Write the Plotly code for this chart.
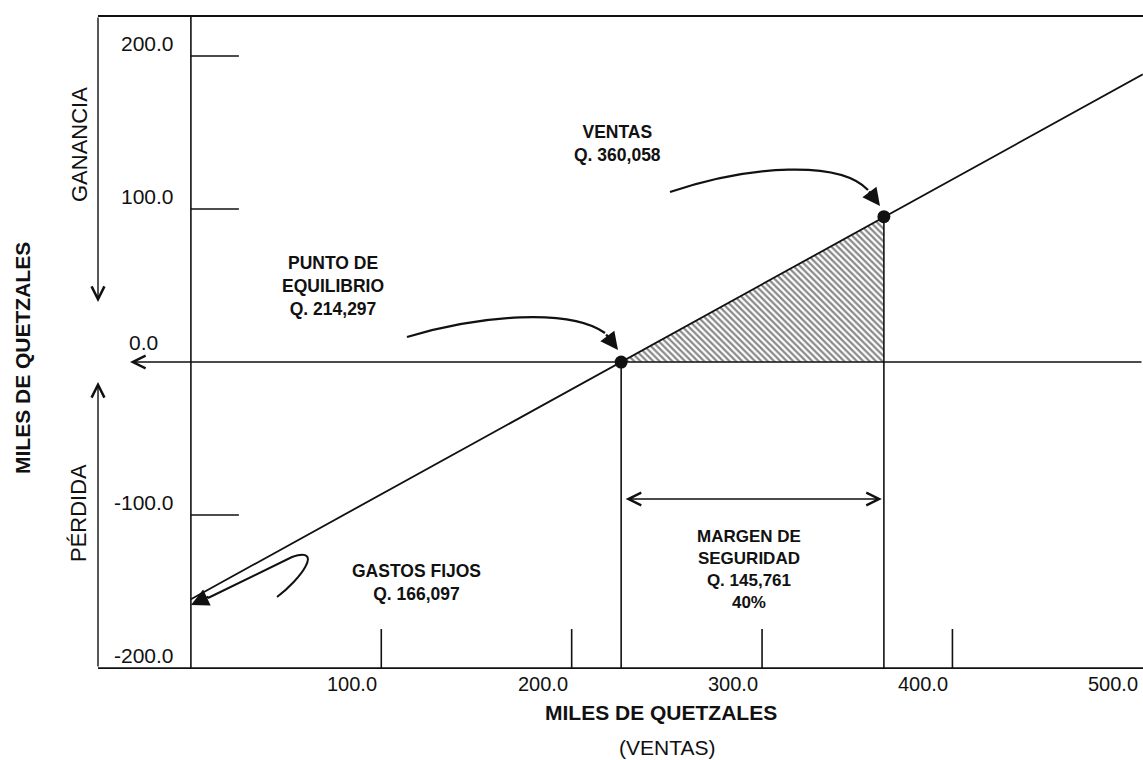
import plotly.graph_objects as go

# ---------------- data (miles de quetzales) ----------------
line_x = [0, 500]            # ventas
line_y = [-155, 188]         # ganancia / pérdida
be_x, be_y = 226, 0          # punto de equilibrio (posición en el gráfico)
ventas_x, ventas_y = 364, 95 # ventas actuales (posición en el gráfico)
margin_y = -89.5             # altura de la flecha del margen de seguridad

y_tick_vals = [200, 100, 0, -100, -200]
y_tick_text = ["200.0", "100.0", "0.0", "-100.0", "-200.0"]
y_tick_marks = [200, 100, -100]
x_tick_vals = [100, 200, 300, 400, 500]
x_tick_text = ["100.0", "200.0", "300.0", "400.0", "500.0"]
x_tick_marks = [100, 200, 300, 400]

lbl_ventas = "VENTAS<br>Q. 360,058"
lbl_pe = "PUNTO DE<br>EQUILIBRIO<br>Q. 214,297"
lbl_gf = "GASTOS FIJOS<br>Q. 166,097"
lbl_ms = "MARGEN DE<br>SEGURIDAD<br>Q. 145,761<br>40%"

# ---------------- layout geometry ----------------
OFF = 0                      # body margin removed by post_script
W, H = 1143 - OFF, 760 - OFF
# plot area in page pixels: x 90..1143, y 8..676
L, R, T, B = 90 - OFF, 0, 8 - OFF, 760 - 676
X_RANGE = [-53, 500.1]
Y_RANGE = [-205.2, 231.4]
PW, PH = W - L - R, H - T - B

def xd(px):  # page pixel -> data x
    return X_RANGE[0] + (px - OFF - L) / PW * (X_RANGE[1] - X_RANGE[0])

def yd(py):  # page pixel -> data y
    return Y_RANGE[1] - (py - OFF - T) / PH * (Y_RANGE[1] - Y_RANGE[0])

def xp(px):  # page pixel -> paper x
    return (px - OFF - L) / PW

def yp(py):  # page pixel -> paper y
    return 1 - (py - OFF - T) / PH

FONT = "Liberation Sans, Arial, sans-serif"
BLACK = "#111111"
frame_left = xd(98)
frame_top = yd(16)
ybot = -200

fig = go.Figure()

# hatched margin-of-safety triangle
fig.add_trace(go.Scatter(
    x=[be_x, ventas_x, ventas_x, be_x], y=[be_y, ventas_y, 0, be_y],
    mode="lines", fill="toself", line=dict(width=0, color=BLACK),
    fillcolor="white",
    fillpattern=dict(shape="\\", size=4.5, solidity=0.5, fgcolor=BLACK, bgcolor="white"),
    hoverinfo="skip", showlegend=False))

# profit line
fig.add_trace(go.Scatter(x=line_x, y=line_y, mode="lines",
                         line=dict(color=BLACK, width=1.8), showlegend=False))

# vertical drop lines
fig.add_trace(go.Scatter(x=[be_x, be_x], y=[be_y, ybot], mode="lines",
                         line=dict(color=BLACK, width=1.6), showlegend=False))
fig.add_trace(go.Scatter(x=[ventas_x, ventas_x], y=[ventas_y, ybot], mode="lines",
                         line=dict(color=BLACK, width=1.6), showlegend=False))

# points
fig.add_trace(go.Scatter(x=[be_x, ventas_x], y=[be_y, ventas_y], mode="markers",
                         marker=dict(color=BLACK, size=13), showlegend=False))

shapes = []
# frame top & bottom
shapes.append(dict(type="line", xref="x", yref="y", x0=frame_left, x1=X_RANGE[1],
                   y0=frame_top, y1=frame_top, line=dict(color=BLACK, width=1.8)))
shapes.append(dict(type="line", xref="x", yref="y", x0=frame_left, x1=X_RANGE[1],
                   y0=ybot, y1=ybot, line=dict(color=BLACK, width=1.8)))
# y axis line
shapes.append(dict(type="line", xref="x", yref="y", x0=0, x1=0,
                   y0=ybot, y1=frame_top, line=dict(color=BLACK, width=1.6)))
# y tick marks
for v in y_tick_marks:
    shapes.append(dict(type="line", xref="x", yref="y", xsizemode="pixel", xanchor=0,
                       x0=0, x1=48, y0=v, y1=v, line=dict(color=BLACK, width=1.4)))
# x tick marks
for v in x_tick_marks:
    shapes.append(dict(type="line", xref="x", yref="y", ysizemode="pixel", yanchor=ybot,
                       x0=v, x1=v, y0=0, y1=39, line=dict(color=BLACK, width=1.6)))

# curved hand-drawn arrows (pixel guides converted to data coords)
def cubic(p0, p1, p2, p3, tail=None):
    s = "M {} {} C {} {}, {} {}, {} {}".format(
        xd(p0[0]), yd(p0[1]), xd(p1[0]), yd(p1[1]),
        xd(p2[0]), yd(p2[1]), xd(p3[0]), yd(p3[1]))
    if tail:
        s += " L {} {}".format(xd(tail[0]), yd(tail[1]))
    return s

shapes.append(dict(type="path", xref="x", yref="y",
                   path=cubic((670, 192), (750, 165), (840, 160), (868, 190)),
                   line=dict(color=BLACK, width=2.2)))
shapes.append(dict(type="path", xref="x", yref="y",
                   path=cubic((407, 337), (480, 315), (570, 308), (605, 333)),
                   line=dict(color=BLACK, width=2.2)))
shapes.append(dict(type="path", xref="x", yref="y",
                   path=cubic((277, 597), (300, 580), (325, 546), (292, 557), tail=(208, 598)),
                   line=dict(color=BLACK, width=2.0)))

annotations = []
def head(tip, dx, dy):
    annotations.append(dict(x=xd(tip[0]), y=yd(tip[1]), xref="x", yref="y", text="",
                            showarrow=True, ax=dx, ay=dy, arrowhead=2, arrowsize=1.6,
                            arrowwidth=2.2, arrowcolor=BLACK))
head((880, 206), -12, -16)
head((618, 350), -13, -17)
head((191, 605), 19, -9)

def chevron(x, y, ax, ay):
    annotations.append(dict(x=x, y=y, xref="x", yref="y", ax=ax, ay=ay, axref="x", ayref="y",
                            text="", showarrow=True, arrowhead=5, arrowsize=1.8,
                            arrowwidth=1.4, arrowcolor=BLACK))
# left frame arrows & zero line arrow
chevron(frame_left, yd(302), frame_left, frame_top)
chevron(frame_left, yd(382), frame_left, ybot)
chevron(xd(130), 0, X_RANGE[1], 0)

# margin of safety double arrow
annotations.append(dict(x=ventas_x, y=margin_y, xref="x", yref="y", ax=be_x, ay=margin_y,
                        axref="x", ayref="y", text="", showarrow=True, arrowside="end+start",
                        arrowhead=5, startarrowhead=5, arrowsize=1.8, startarrowsize=1.8,
                        arrowwidth=1.4, arrowcolor=BLACK, standoff=2, startstandoff=3))

# tick labels
for v, t in zip(y_tick_vals, y_tick_text):
    if v == 0:
        annotations.append(dict(x=0, y=v, xref="x", yref="y", text=t, showarrow=False,
                                xanchor="right", xshift=-31, yshift=20,
                                font=dict(family=FONT, size=21, color=BLACK)))
    else:
        annotations.append(dict(x=0, y=v, xref="x", yref="y", text=t, showarrow=False,
                                xanchor="right", xshift=-15, yshift=13,
                                font=dict(family=FONT, size=21, color=BLACK)))
for v, t in zip(x_tick_vals, x_tick_text):
    last = v == x_tick_vals[-1]
    annotations.append(dict(x=v, y=ybot, xref="x", yref="y", text=t, showarrow=False,
                            xanchor="right" if last else "center", yanchor="top",
                            xshift=-3 if last else -29, yshift=-3,
                            font=dict(family=FONT, size=20, color=BLACK)))

def ptext(txt, cx, cy, size, bold=False, angle=0):
    annotations.append(dict(x=xp(cx), y=yp(cy), xref="paper", yref="paper",
                            text=("<b>%s</b>" % txt) if bold else txt, showarrow=False,
                            xanchor="center", yanchor="middle", textangle=angle,
                            align="center",
                            font=dict(family=FONT, size=size, color=BLACK)))

ptext(lbl_ventas, 617, 143.5, 17.5, bold=True)
ptext(lbl_pe, 333, 285.5, 17.5, bold=True)
ptext(lbl_gf, 416, 582, 17.5, bold=True)
ptext(lbl_ms, 749, 569, 17, bold=True)
ptext("MILES DE QUETZALES", 661, 712, 21, bold=True)
ptext("(VENTAS)", 667, 747, 21)
ptext("MILES DE QUETZALES", 22, 358, 21, bold=True, angle=-90)
ptext("GANANCIA", 79, 145, 22, angle=-90)
ptext("PÉRDIDA", 78, 513, 22, angle=-90)

fig.update_layout(
    width=W, height=H,
    margin=dict(l=L, r=R, t=T, b=B),
    paper_bgcolor="white", plot_bgcolor="white",
    xaxis=dict(range=X_RANGE, visible=False, fixedrange=True),
    yaxis=dict(range=Y_RANGE, visible=False, fixedrange=True),
    shapes=shapes, annotations=annotations, showlegend=False,
)

fig.write_html(
    "out.html",
    config={"displayModeBar": False},
    post_script="document.body.style.margin='0';document.body.style.overflow='hidden';",
)
